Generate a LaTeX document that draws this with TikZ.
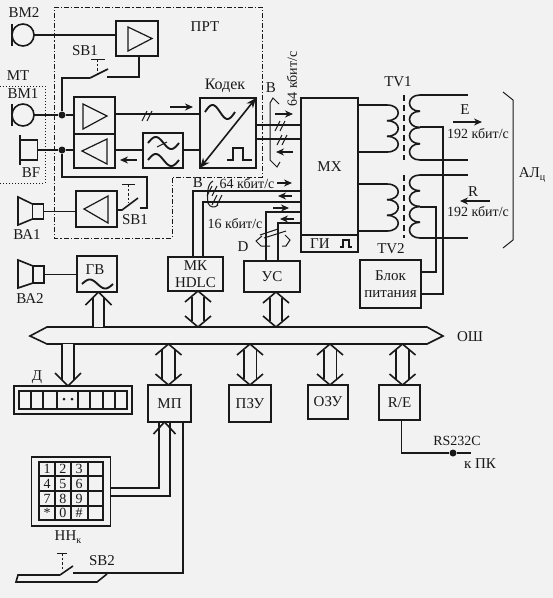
\documentclass[tikz,border=0pt]{standalone}
\usepackage{fontspec}
\setmainfont{Liberation Serif}
\usetikzlibrary{arrows.meta}
\definecolor{paper}{gray}{0.95}
\definecolor{ink}{gray}{0.1}
\tikzset{
  wire/.style={line width=1.6pt,color=ink,line join=miter},
  thinl/.style={line width=1pt,color=ink},
  box/.style={draw=ink,line width=1.6pt,inner sep=0pt,outer sep=0pt,text=ink,font=\fontsize{15}{17}\selectfont,align=center},
  lbl/.style={inner sep=0pt,text=ink,font=\fontsize{15}{17}\selectfont},
  lbs/.style={inner sep=0pt,text=ink,font=\fontsize{14}{16}\selectfont},
  dotj/.style={circle,fill=ink,inner sep=0pt,minimum size=7pt},
  mic/.style={circle,draw=ink,line width=1.6pt,inner sep=0pt,outer sep=0pt,minimum size=22pt},
  flow/.style={line width=1.6pt,color=ink,-{Stealth[length=8pt,width=7pt]}},
  bus/.style={double=paper,draw=ink,line width=1.6pt,double distance=#1},
  bus/.default=10pt,
  border/.style={line width=1pt,color=ink,dash pattern=on 5pt off 2pt on 1.2pt off 2pt},
  push/.style={line width=1pt,color=ink,dash pattern=on 2.5pt off 2pt}
}
\newcommand{\bustip}[3]{\coordinate (tiptmp) at (#1); \draw[wire] ([shift={(-#3,#2)}]tiptmp) -- (tiptmp) -- ([shift={(#3,#2)}]tiptmp);}
\newcommand{\wave}[4]{\draw[wire,line width=1.9pt,shift={(#1,#2)},domain=0:1,samples=40,smooth] plot ({\x*#3},{-#4*sin(360*\x)});}
\newcommand{\slashes}[2]{\draw[thinl,shift={(#1,#2)}] (-3,5) -- (2,-5) (2,5) -- (7,-5);}
\newcommand{\coil}[5]{\foreach \k in {0,...,#5} \draw[wire] (#1,{#2+\k*#3}) .. controls ({#1+#4},{#2+\k*#3}) and ({#1+#4},{#2+(\k+1)*#3}) .. (#1,{#2+(\k+1)*#3});}
\begin{document}
\begin{tikzpicture}[x=1pt,y=-1pt]
\useasboundingbox (0,0) rectangle (553,598);
\fill[paper] (0,0) rectangle (553,598);
\draw[border] (54,7) -- (262,7) -- (262,177) -- (172,177) -- (172,238) -- (54,238) -- cycle;
\draw[thinl,dotted] (0,86) -- (45,86) -- (45,183) -- (0,183);
\node[lbl] (lprt) at (205,27) {ПРТ};
\node[lbl] (lbm2) at (24,13) {ВМ2};
\node[lbl] (lmt) at (18,76) {МТ};
\node[lbl] (lbm1) at (23,94) {ВМ1};
\node[lbl] (lbf) at (31,173) {BF};
\node[lbl] (lsb1a) at (85,51) {SB1};
\node[lbl] (lsb1b) at (135,220) {SB1};
\node[lbl] (lba1) at (27,235) {ВА1};
\node[lbl] (lba2) at (30,299) {ВА2};
\node[lbl,font=\fontsize{16}{18}\selectfont] (lcodec) at (225,86) {Кодек};
\node[mic] (bm2) at (23,35) {};
\node[mic] (bm1) at (23,115) {};
\draw[wire] ([yshift=-11]bm2.west) -- ([yshift=11]bm2.west);
\draw[wire] ([yshift=-11]bm1.west) -- ([yshift=11]bm1.west);
\node[box,minimum width=42,minimum height=35] (ampmt) at (137,38.5) {};
\node[box,minimum width=41,minimum height=37] (amprx) at (94.5,115.5) {};
\node[box,minimum width=41,minimum height=34] (amptx) at (94.5,151) {};
\node[box,minimum width=41,minimum height=36] (ampba) at (96.5,209) {};
\node[box,minimum width=40,minimum height=35] (filter) at (163,150.5) {};
\node[box,minimum width=56,minimum height=70] (codec) at (228,133) {};
\node[box,minimum width=17,minimum height=20] (bf) at (29,150) {};
\draw[wire] (20,135) -- (20,165);
\node[dotj] (jrx) at (62,115) {};
\node[dotj] (jtx) at (62,150) {};
\draw[thinl,line width=1.2pt] (128,27) -- (152,38.5) -- (128,51) -- cycle;
\draw[thinl,line width=1.2pt] (83,104) -- (107,116) -- (83,129) -- cycle;
\draw[thinl,line width=1.2pt] (107,139) -- (82,151) -- (107,164) -- cycle;
\draw[thinl,line width=1.2pt] (108,196) -- (84,209) -- (108,223) -- cycle;
\draw[wire] (bm2.east) -- (ampmt.west |- bm2);
\draw[wire] (bm1.east) -- (jrx) -- (amprx.west |- jrx);
\draw[wire] (bf.east) -- (jtx) -- (amptx.west |- jtx);
\coordinate (sb1l) at (90,78);
\coordinate (sb1r) at (107,77);
\coordinate (sb2l) at (122,210);
\coordinate (sb2r) at (140,208);
\draw[wire] ([xshift=2]ampmt.south) |- (sb1r);
\draw[wire] (sb1l) -- (108,69);
\draw[wire] (jrx) |- (sb1l);
\draw[thinl] (91,59) -- (105,59);
\draw[push] (97,59) -- (97,73);
\draw[wire] (jtx) |- (147,177) |- (sb2r);
\draw[wire] (ampba.east |- sb2l) -- (sb2l) -- (138,198);
\draw[thinl] (122,184) -- (135,184);
\draw[push] (128,184) -- (128,203);
\draw[wire] (amprx.east |- 0,114) -- (codec.west |- 0,114);
\slashes{145}{116}
\draw[flow] (170,107) -- (193,107);
\draw[wire] (amptx.east |- 0,150) -- (filter.west |- 0,150);
\draw[wire] (filter.east |- 0,150) -- (codec.west |- 0,150);
\draw[flow] (137,160) -- (120,160);
\wave{148}{143}{31}{6}
\wave{148}{160}{31}{6}
\draw[thinl] (157,147) -- (167,142);
\wave{205}{112}{30}{7}
\draw[wire,{Stealth[length=10pt,width=8pt]}-{Stealth[length=10pt,width=8pt]}] (codec.south west) -- (codec.north east);
\draw[wire,line width=1.2pt] (227,160) -- (233,160) -- (233,148) -- (243,148) -- (243,160) -- (252,160);
\node[lbl] (lv1) at (271,88) {В};
\node[lbs,rotate=90] (l64v) at (292,79) {64 кбит/с};
\node[box,minimum width=57,minimum height=137] (mx) at (329.5,166.5) {МХ};
\node[box,minimum width=57,minimum height=17] (gi) at (329.5,243.5) {ГИ\hspace{19pt}};
\draw[wire,line width=1.2pt] (340,247) -- (343,247) -- (343,240) -- (349,240) -- (349,247) -- (352,247);
\draw[wire] (codec.east |- 0,125) -- (mx.west |- 0,125);
\draw[wire] (codec.east |- 0,139) -- (mx.west |- 0,139);
\slashes{278}{126}
\slashes{280}{140}
\draw[thinl] (279,104) -- (273,98) -- (270,103) -- (270,160) -- (277,167) -- (280,162);
\draw[flow] (275,114) -- (293,114);
\draw[flow] (293,152) -- (276,152);
\node[box,minimum width=55,minimum height=34] (mk) at (195.5,274) {МК\\HDLC};
\node[box,minimum width=56,minimum height=31] (us) at (272,276.5) {УС};
\draw[wire] (193,257) |- (mx.west |- 0,191);
\draw[wire] (203,257) |- (mx.west |- 0,202);
\draw[wire] (266,261) |- (mx.west |- 0,212);
\draw[wire] (278,261) |- (mx.west |- 0,223);
\node[lbl] (lv2) at (198,183) {В};
\node[lbs] (l64h) at (247,184) {64 кбит/с};
\node[lbs] (l16) at (235,224) {16 кбит/с};
\node[lbl] (ld) at (243,247) {D};
\draw[flow] (277,183) -- (292,183);
\draw[flow] (292,196) -- (278,196);
\draw[flow] (273,208) -- (289,208);
\draw[flow] (294,219) -- (280,219);
\draw[thinl] (213,181) .. controls (207,184) and (207,195) .. (208,203) .. controls (210,208) and (215,208) .. (218,205);
\slashes{210}{191}
\slashes{215}{200}
\draw[thinl] (260,235) -- (278,229) (264,238) -- (286,231);
\draw[thinl] (262,236) -- (256,241) -- (261,246) -- (270,246) (282,246) -- (286,246) -- (290,240) -- (285,235);
\coil{387}{105}{15.67}{15}{2}
\coil{387}{184}{15.67}{15}{2}
\coil{420}{95}{16.25}{-14}{3}
\coil{420}{175}{15.75}{-14}{3}
\draw[wire] (mx.east |- 0,105) -- (387,105);
\draw[wire] (mx.east |- 0,152) -- (387,152);
\draw[wire] (mx.east |- 0,184) -- (387,184);
\draw[wire] (mx.east |- 0,231) -- (387,231);
\draw[wire] (420,95) -- (468,95);
\draw[wire] (420,160) -- (468,160);
\draw[wire] (420,175) -- (468,175);
\draw[wire] (420,238) -- (468,238);
\draw[wire,dash pattern=on 6pt off 4pt] (404,95) -- (404,160);
\draw[wire,dash pattern=on 6pt off 4pt] (404,175) -- (404,238);
\node[box,minimum width=61,minimum height=48,font=\fontsize{15}{17}\selectfont] (blok) at (390.5,284) {Блок\\питания};
\draw[wire] (420,127) -| (443,294) -- (blok.east |- 0,294);
\draw[wire] (420,207) -| (436,272) -- (blok.east |- 0,272);
\node[lbl] (ltv1) at (398,82) {TV1};
\node[lbl] (ltv2) at (391,249) {TV2};
\node[lbl] (le) at (465,110) {E};
\node[lbl] (lr) at (473,192) {R};
\draw[flow] (453,122) -- (482,122);
\draw[flow] (490,201) -- (460,201);
\node[lbs] (l192e) at (478,134) {192 кбит/с};
\node[lbs] (l192r) at (478,212) {192 кбит/с};
\draw[thinl] (503,92) -- (513,100) -- (513,240) -- (503,248);
\node[lbl] (lal) at (532,175) {АЛ\raisebox{-3pt}{\fontsize{10}{10}\selectfont ц}};
\coordinate (bustop) at (0,327);
\coordinate (busbot) at (0,344);
\draw[wire,fill=paper] (30,336) -- (47,327) -- (427,327) -- (443,336) -- (427,344) -- (47,344) -- cycle;
\node[lbl] (losh) at (470,337) {ОШ};
\node[box,minimum width=40,minimum height=36] (gv) at (97,274) {};
\node[lbl] (lgv) at (95,270) {ГВ};
\wave{82}{284}{31}{4.5}
\node[box,minimum width=11,minimum height=15] (ba1) at (38,211.5) {};
\draw[wire] (ba1.north west) -- (18,197) -- (18,225) -- (ba1.south west);
\draw[wire] (ba1.east) -- (ampba.west |- ba1);
\node[box,minimum width=11,minimum height=17] (ba2) at (38.5,274.5) {};
\draw[wire] (ba2.north west) -- (18,260) -- (18,288) -- (ba2.south west);
\draw[wire] (ba2.east) -- (gv.west |- ba2);
\draw[bus=9pt,shorten >=6pt] ([xshift=1.5]gv.south |- bustop) -- ([xshift=1.5]gv.south);
\bustip{[xshift=1.5]gv.south}{13}{13}
\draw[bus=10.5pt,shorten <=6pt,shorten >=6pt] ([xshift=2.5]mk.south) -- ([xshift=2.5]mk.south |- bustop);
\bustip{[xshift=2.5]mk.south}{11}{13}
\bustip{[xshift=2.5]mk.south |- bustop}{-11}{13}
\draw[bus=10.5pt,shorten <=6pt,shorten >=6pt] ([xshift=4]us.south) -- ([xshift=4]us.south |- bustop);
\bustip{[xshift=4]us.south}{11}{13}
\bustip{[xshift=4]us.south |- bustop}{-11}{13}
\node[lbl] (ldisp) at (37,377) {Д};
\node[box,minimum width=118,minimum height=28] (disp) at (73,400) {};
\draw[wire] (19,391) rectangle (127,409);
\foreach \cx in {31,43,57,78,90,103,115} \draw[wire] (\cx,391) -- (\cx,409);
\fill[ink] (64,399) circle (1.5pt) (72,399) circle (1.5pt);
\draw[bus=10pt,shorten >=6pt] ([xshift=-5]disp.north |- busbot) -- ([xshift=-5]disp.north);
\bustip{[xshift=-5]disp.north}{-13}{13}
\node[box,minimum width=43,minimum height=37] (mp) at (169.5,403.5) {МП};
\node[box,minimum width=42,minimum height=37] (pzu) at (250,403.5) {ПЗУ};
\node[box,minimum width=40,minimum height=34] (ozu) at (328,402) {ОЗУ};
\node[box,minimum width=41,minimum height=35] (re) at (399.5,402.5) {R/E};
\foreach \nn/\sh in {mp/-1,pzu/0,ozu/2,re/3} {
  \draw[bus=11pt,shorten <=6pt,shorten >=6pt] ([xshift=\sh]\nn.north) -- ([xshift=\sh]\nn.north |- busbot);
  \bustip{[xshift=\sh]\nn.north}{-11}{13}
  \bustip{[xshift=\sh]\nn.north |- busbot}{11}{13}
}
\node[dotj] (j232) at (453,453) {};
\coordinate (pcend) at (471,453);
\draw[wire] ([xshift=2]re.south) |- (j232) -- (pcend);
\node[lbs] (lrs) at (457,441) {RS232C};
\node[lbl] (lpc) at (480,464) {к ПК};
\node[box,minimum width=79,minimum height=69] (kbd) at (71,491.5) {};
\draw[wire] (39,462) rectangle (103,520);
\foreach \gx in {55,71,88} \draw[wire,line width=1.2pt] (\gx,462) -- (\gx,520);
\foreach \gy in {476,491,506} \draw[wire,line width=1.2pt] (39,\gy) -- (103,\gy);
\foreach \kx/\ky/\kn/\kt in {47/469/a/1,63/469/b/2,79/469/c/3,47/484/d/4,63/484/e/5,79/484/f/6,47/499/g/7,63/499/h/8,79/499/i/9,47/513/j/*,63/513/k/0,79/513/l/\#}
  \node[lbs] (key\kn) at (\kx,\ky) {\kt};
\node[lbl] (lnn) at (68,537) {НН\raisebox{-3pt}{\fontsize{10}{10}\selectfont к}};
\draw[wire] (kbd.east |- 0,488) -| ([xshift=-10.5]mp.south);
\draw[wire] (kbd.east |- 0,496) -| ([xshift=0.5]mp.south);
\bustip{[xshift=-5]mp.south}{12}{11}
\coordinate (sw3l) at (60,575);
\coordinate (sw3r) at (73,573);
\draw[wire] ([xshift=13.5]mp.south) |- (sw3r);
\draw[wire] (sw3l) -- (73,566);
\draw[wire] (sw3l) -- (18,575) -- (16,582) -- (97,582) -- (107,574);
\draw[thinl] (57,553) -- (67,553);
\draw[push] (62,553) -- (62,570);
\node[lbl] (lsb2) at (102,561) {SB2};
\end{tikzpicture}
\end{document}
